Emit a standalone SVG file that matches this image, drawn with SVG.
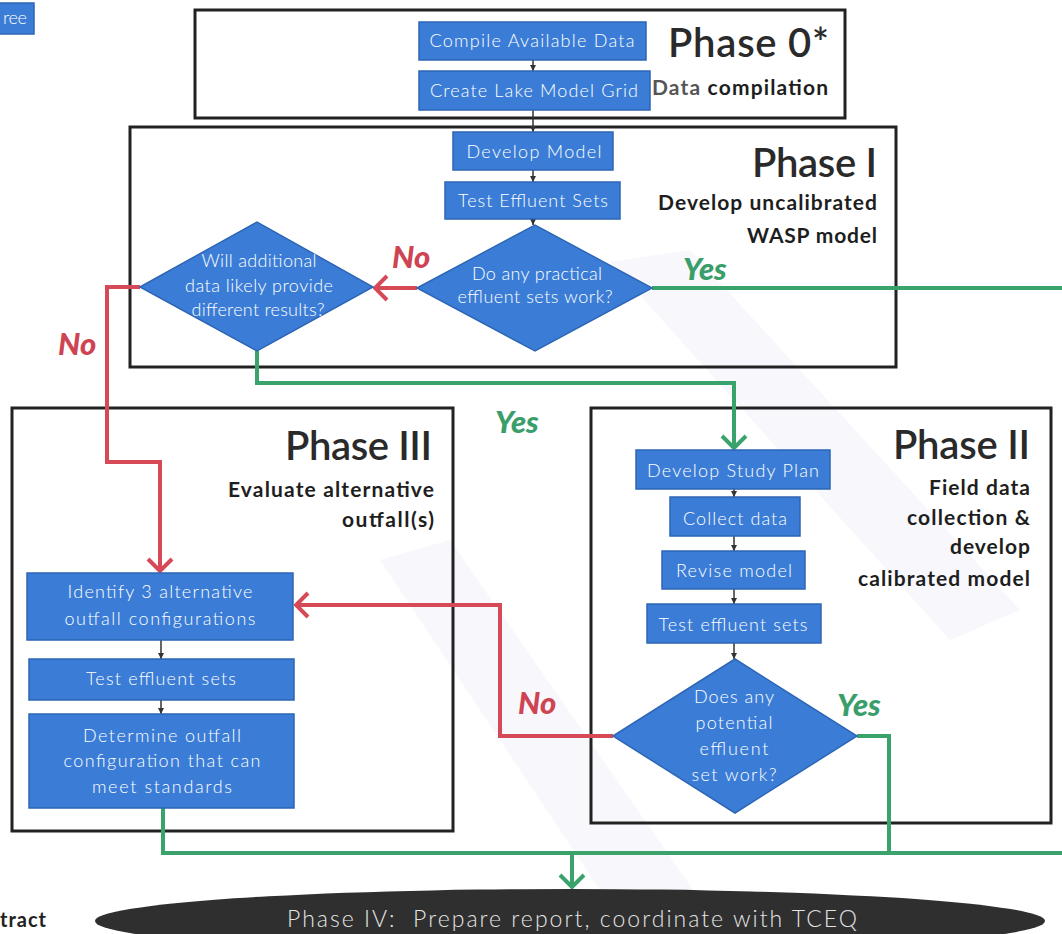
<svg xmlns="http://www.w3.org/2000/svg" width="1062" height="934" viewBox="0 0 1062 934">
<defs>
<style>
.box{fill:#3b7dd6;stroke:#2d66b5;stroke-width:1.5}
.lbl{font-family:Lato,"Liberation Sans",sans-serif;font-weight:300;font-size:18px;fill:#ffffff;text-anchor:middle}
.phase{fill:none;stroke:#222;stroke-width:3}
.ttl{font-family:Lato,"Liberation Sans",sans-serif;font-weight:600;font-size:40px;fill:#2a2a2a;text-anchor:end}
.sub{font-family:Lato,"Liberation Sans",sans-serif;font-weight:700;font-size:21px;fill:#1e1e1e;text-anchor:end}
.no{font-family:Lato,"Liberation Sans",sans-serif;font-weight:900;font-style:italic;font-size:31px;fill:#cf4452}
.yes{font-family:Lato,"Liberation Sans",sans-serif;font-weight:900;font-style:italic;font-size:31px;fill:#3a9e6a}
.red{fill:none;stroke:#d64a58;stroke-width:4}
.green{fill:none;stroke:#3aa36c;stroke-width:4}
.blk{fill:none;stroke:#333;stroke-width:1.5}
.wm{fill:#f1f2fa;opacity:0.6}
.p4{font-family:Lato,"Liberation Sans",sans-serif;font-weight:300;font-size:23px;fill:#e4e4e4;text-anchor:middle;white-space:pre}
</style>
<marker id="chR" viewBox="-14 -14 16 28" markerWidth="16" markerHeight="28" refX="0" refY="0" orient="auto" markerUnits="userSpaceOnUse"><path d="M-12,-12 L0,0 L-12,12" fill="none" stroke="#d64a58" stroke-width="4"/></marker>
<marker id="chG" viewBox="-14 -14 16 28" markerWidth="16" markerHeight="28" refX="0" refY="0" orient="auto" markerUnits="userSpaceOnUse"><path d="M-12,-12 L0,0 L-12,12" fill="none" stroke="#3aa36c" stroke-width="4"/></marker>
<marker id="sm" viewBox="0 0 6 6" markerWidth="6" markerHeight="6" refX="6" refY="3" orient="auto" markerUnits="userSpaceOnUse"><path d="M0,0 L6,3 L0,6 z" fill="#333"/></marker>
</defs>
<rect width="1062" height="934" fill="#ffffff"/>
<g id="watermark">
<polygon class="wm" points="610,262 690,250 1020,610 950,640"/>
<polygon class="wm" points="380,560 450,540 700,900 620,920"/>
</g>

<g id="phase0"><rect class="phase" x="195" y="10" width="650" height="108"/>
<text class="ttl" x="829" y="57" textLength="161">Phase 0*</text>
<text class="sub" x="828" y="95" textLength="176"><tspan fill="#555">Data</tspan> compilation</text></g>
<g id="phase1"><rect class="phase" x="130" y="127" width="766" height="240"/>
<text class="ttl" x="877" y="177" textLength="125">Phase I</text>
<text class="sub" x="877" y="210" textLength="219">Develop uncalibrated</text>
<text class="sub" x="877" y="243" textLength="130">WASP model</text></g>
<g id="phase3"><rect class="phase" x="12" y="408" width="441" height="423"/>
<text class="ttl" x="432" y="460" textLength="147">Phase III</text>
<text class="sub" x="434" y="497" textLength="206">Evaluate alternative</text>
<text class="sub" x="434" y="527" textLength="92">outfall(s)</text></g>
<g id="phase2"><rect class="phase" x="591" y="408" width="460" height="415"/>
<text class="ttl" x="1030" y="459" textLength="137">Phase II</text>
<text class="sub" x="1030" y="495" textLength="101">Field data</text>
<text class="sub" x="1030" y="525" textLength="123">collection &amp;</text>
<text class="sub" x="1030" y="554" textLength="80">develop</text>
<text class="sub" x="1030" y="586" textLength="172">calibrated model</text></g>

<g id="connectors">
<path class="blk" d="M533,60 V71" marker-end="url(#sm)"/>
<path class="blk" d="M533,110 V132" marker-end="url(#sm)"/>
<path class="blk" d="M533,170 V182" marker-end="url(#sm)"/>
<path class="blk" d="M533,219 V225" marker-end="url(#sm)"/>
<path class="blk" d="M734,489 V497" marker-end="url(#sm)"/>
<path class="blk" d="M734,536 V551" marker-end="url(#sm)"/>
<path class="blk" d="M734,589 V604" marker-end="url(#sm)"/>
<path class="blk" d="M734,643 V659" marker-end="url(#sm)"/>
<path class="blk" d="M161,640 V659" marker-end="url(#sm)"/>
<path class="blk" d="M161,700 V714" marker-end="url(#sm)"/>
<path class="red" d="M417,288 H375" marker-end="url(#chR)"/>
<path class="red" d="M140,287 H107 V462 H160 V571" marker-end="url(#chR)"/>
<path class="red" d="M613,736 H500 V605 H296" marker-end="url(#chR)"/>
<path class="green" d="M652,288 H1062"/>
<path class="green" d="M257,351 V383 H734 V448" marker-end="url(#chG)"/>
<path class="green" d="M857,736 H889 V853"/>
<path class="green" d="M163,808 V853 H1062"/>
<path class="green" d="M572,853 V887" marker-end="url(#chG)"/>
<text class="no" x="392" y="268">No</text>
<text class="no" x="58" y="355">No</text>
<text class="no" x="518" y="714">No</text>
<text class="yes" x="683" y="280">Yes</text>
<text class="yes" x="495" y="433">Yes</text>
<text class="yes" x="837" y="716">Yes</text>
</g>

<g id="n-ree"><rect class="box" x="-2" y="3" width="36" height="31"/><text class="lbl" x="15" y="24" font-size="13" textLength="24">ree</text></g>
<g id="n-compile"><rect class="box" x="419" y="22" width="227" height="38"/><text class="lbl" x="532" y="47" textLength="205">Compile Available Data</text></g>
<g id="n-grid"><rect class="box" x="419" y="71" width="231" height="39"/><text class="lbl" x="534" y="97" textLength="208">Create Lake Model Grid</text></g>
<g id="n-develop"><rect class="box" x="453" y="132" width="160" height="38"/><text class="lbl" x="534" y="158" textLength="135">Develop Model</text></g>
<g id="n-test1"><rect class="box" x="445" y="182" width="175" height="37"/><text class="lbl" x="533" y="207" textLength="150">Test Effluent Sets</text></g>
<g id="n-practical"><polygon class="box" points="417,288 535,225 652,288 535,351"/>
<text class="lbl" x="537" y="280" textLength="130">Do any practical</text>
<text class="lbl" x="535" y="303" textLength="155">effluent sets work?</text></g>
<g id="n-additional"><polygon class="box" points="140,287 257,222 373,287 257,351"/>
<text class="lbl" x="259" y="267" textLength="115">Will additional</text>
<text class="lbl" x="259" y="292" textLength="148">data likely provide</text>
<text class="lbl" x="258" y="316" textLength="133">different results?</text></g>
<g id="n-studyplan"><rect class="box" x="636" y="450" width="194" height="39"/><text class="lbl" x="733" y="477" textLength="172">Develop Study Plan</text></g>
<g id="n-collect"><rect class="box" x="670" y="497" width="130" height="39"/><text class="lbl" x="735" y="525" textLength="104">Collect data</text></g>
<g id="n-revise"><rect class="box" x="662" y="551" width="143" height="38"/><text class="lbl" x="734" y="577" textLength="116">Revise model</text></g>
<g id="n-test2"><rect class="box" x="647" y="604" width="174" height="39"/><text class="lbl" x="733" y="631" textLength="149">Test effluent sets</text></g>
<g id="n-potential"><polygon class="box" points="613,736 735,659 857,736 735,813"/>
<text class="lbl" x="734" y="703" textLength="80">Does any</text>
<text class="lbl" x="734" y="729" textLength="77">potential</text>
<text class="lbl" x="734" y="755" textLength="69">effluent</text>
<text class="lbl" x="734" y="781" textLength="85">set work?</text></g>
<g id="n-identify"><rect class="box" x="27" y="573" width="266" height="67"/>
<text class="lbl" x="160" y="598" textLength="185">Identify 3 alternative</text>
<text class="lbl" x="160" y="625" textLength="191">outfall configurations</text></g>
<g id="n-test3"><rect class="box" x="29" y="659" width="265" height="41"/><text class="lbl" x="161" y="685" textLength="150">Test effluent sets</text></g>
<g id="n-determine"><rect class="box" x="29" y="714" width="265" height="94"/>
<text class="lbl" x="162" y="742" textLength="158">Determine outfall</text>
<text class="lbl" x="162" y="767" textLength="197">configuration that can</text>
<text class="lbl" x="162" y="793" textLength="140">meet standards</text></g>
<g id="n-phase4"><ellipse cx="570" cy="921" rx="475" ry="32" fill="#2f2f2f"/>
<text class="p4" x="572" y="927" textLength="570">Phase IV:  Prepare report, coordinate with TCEQ</text></g>
<g id="n-tract"><text x="0" y="927" font-family="Lato,'Liberation Sans',sans-serif" font-weight="700" font-size="20" fill="#222" textLength="46">tract</text></g>
</svg>
